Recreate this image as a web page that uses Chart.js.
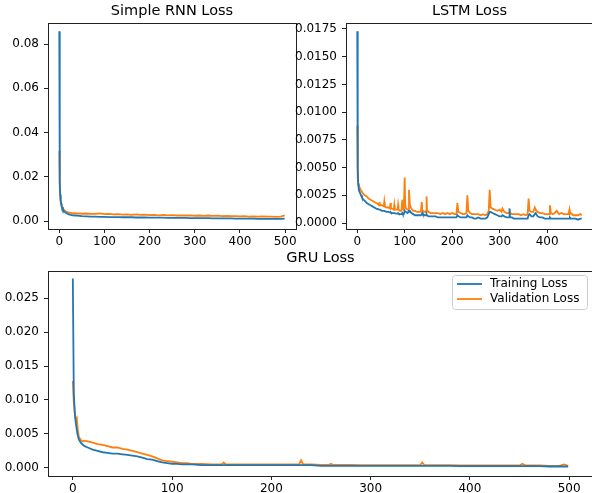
<!DOCTYPE html>
<html><head><meta charset="utf-8">
<script src="https://cdn.jsdelivr.net/npm/chart.js@4.4.1/dist/chart.umd.min.js"></script>
<style>
html,body{margin:0;padding:0;background:#fff;overflow:hidden;width:592px;height:493px;position:relative;}
canvas{position:absolute;display:block;}
</style></head><body>
<canvas id="c1" width="300" height="250" style="left:0;top:0"></canvas>
<canvas id="c2" width="306" height="250" style="left:290px;top:0"></canvas>
<canvas id="c3" width="596" height="250" style="left:0;top:245px"></canvas>
<script>
const seriesLabels = ['Training Loss', 'Validation Loss'];
const titles = ['Simple RNN Loss', 'LSTM Loss', 'GRU Loss'];

const rnnEpochs = [0,1,2,3,4,5,6,8,10,12,15,20,25,30,35,40,45,50,60,70,80,90,100,110,120,130,140,150,160,170,180,190,200,210,220,230,240,250,260,270,280,290,300,310,320,330,340,350,360,370,380,390,400,410,420,430,440,450,460,470,480,490,499];
const rnnTrain = [0.0858,0.018,0.012,0.0095,0.008,0.007,0.0062,0.0052,0.0046,0.0041,0.0036,0.0031,0.0028,0.0026,0.0025,0.0024,0.0023,0.0022,
 0.0021,0.0020,0.0020,0.0019,0.0019,0.0018,0.0018,0.0018,0.0017,0.0017,0.0017,0.0016,0.0016,0.0016,0.0015,0.0015,0.0015,0.0015,0.0014,0.0014,0.0014,0.0014,0.0014,0.0013,0.0013,0.0013,0.0013,0.0013,0.0012,0.0012,0.0012,0.0012,0.0012,0.0011,0.0011,0.0011,0.0011,0.0011,0.0010,0.0010,0.0010,0.0010,0.0010,0.0010,
 0.0011];
const rnnVal = [0.0316,0.016,0.011,0.0088,0.0076,0.0069,0.0063,0.0056,0.0051,0.0047,0.0043,0.0039,0.0037,0.0035,0.0036,0.0034,0.0035,0.0033,
 0.0034,0.0032,0.0033,0.0035,0.0031,0.0032,0.0030,0.0031,0.0029,0.0030,0.0028,0.0030,0.0028,0.0029,0.0027,0.0028,0.0026,0.0028,0.0026,0.0027,0.0025,0.0026,0.0025,0.0026,0.0024,0.0025,0.0023,0.0025,0.0023,0.0024,0.0022,0.0023,0.0022,0.0022,0.0021,0.0022,0.0020,0.0021,0.0020,0.0021,0.0020,0.0020,0.0019,0.0020,
 0.0026];

const lstmEpochs = [0,1,2,3,4,6,8,10,13,16, 20,24,28,32,36,40,44,46,47,48, 52,56,57,58,62,66,69,70,71,74, 77,78,79,82,85,86,87,90,93,95,
 96,98,100,101,103,106,108,109,111,114, 118,122,126,130,134,136,137,138,142,145, 146,147,150,155,160,165,170,175,180,185,
 190,195,200,205,209,211,213,218,222,226, 230,232,234,238,242,246,250,255,260,265, 270,274,277,279,281,285,290,295,300,304,
 306,310,315,320,321,322,326,330,335,340, 345,350,355,359,361,363,367,371,374,376, 380,385,390,395,400,404,406,408,412,416,
 420,425,430,435,440,445,447,448,450,455, 460,465,470,473];
const lstmTrain = [0.0173,0.0050,0.0035,0.0031,0.0029,0.0027,0.0025,0.0023,0.0021,0.0020,
 0.0018,0.0017,0.0016,0.0015,0.0014,0.0013,0.00125,0.0012,0.0012,0.0012,
 0.0011,0.0011,0.0011,0.0011,0.0010,0.0010,0.00095,0.0010,0.00095,0.0009,
 0.0009,0.0009,0.0009,0.00085,0.00085,0.0009,0.00085,0.0008,0.0008,0.0009,
 0.0008,0.0008,0.0011,0.0010,0.0010,0.0009,0.0010,0.0011,0.0011,0.0009,
 0.0008,0.0007,0.0007,0.0007,0.0007,0.0008,0.0009,0.0008,0.0007,0.0007,
 0.0008,0.0007,0.0006,0.0006,0.0006,0.0006,0.0005,0.0005,0.0005,0.0005,
 0.0005,0.0005,0.0005,0.0005,0.0005,0.0007,0.0006,0.0005,0.0005,0.0005,
 0.0005,0.0007,0.0006,0.0005,0.0005,0.0004,0.0004,0.0005,0.0004,0.0004,
 0.0004,0.0005,0.0008,0.0010,0.0010,0.0009,0.0008,0.0007,0.0006,0.0006,
 0.0007,0.0006,0.0005,0.0005,0.0013,0.0005,0.0005,0.0004,0.0004,0.0004,
 0.0004,0.0004,0.0004,0.0004,0.0007,0.0008,0.0006,0.0006,0.0008,0.0009,
 0.0006,0.0005,0.0005,0.0004,0.0004,0.0004,0.0005,0.0004,0.0004,0.0004,
 0.0004,0.0004,0.0004,0.0004,0.0004,0.0004,0.0004,0.0005,0.0004,0.0004,
 0.0004,0.0003,0.0004,0.0004];
const lstmVal = [0.0088,0.0040,0.0036,0.0034,0.0033,0.0031,0.0029,0.0028,0.0026,0.0025,
 0.0024,0.0022,0.0021,0.0020,0.0019,0.0018,0.0017,0.0016,0.0019,0.0016,
 0.0016,0.0015,0.0019,0.0015,0.0014,0.0014,0.0013,0.0018,0.0013,0.0013,
 0.0012,0.0016,0.0012,0.0012,0.0012,0.0016,0.0012,0.0011,0.0011,0.0021,
 0.0013,0.0012,0.0041,0.0016,0.0013,0.0012,0.0012,0.0030,0.0016,0.0013,
 0.0011,0.0011,0.0010,0.0010,0.0010,0.0019,0.0012,0.0011,0.0010,0.0010,
 0.0024,0.0012,0.0010,0.0009,0.0009,0.0009,0.0009,0.0008,0.0009,0.0008,
 0.0009,0.0008,0.0009,0.0008,0.0008,0.0018,0.0010,0.0009,0.0008,0.0008,
 0.0009,0.0025,0.0011,0.0009,0.0008,0.0008,0.0008,0.0008,0.0007,0.0008,
 0.0007,0.0008,0.0011,0.0030,0.0014,0.0013,0.0012,0.0011,0.0012,0.0010,
 0.0013,0.0010,0.0009,0.0009,0.0010,0.0009,0.0008,0.0008,0.0008,0.0008,
 0.0007,0.0008,0.0007,0.0008,0.0022,0.0011,0.0010,0.0010,0.0014,0.0012,
 0.0010,0.0009,0.0009,0.0008,0.0008,0.0008,0.0016,0.0009,0.0008,0.0009,
 0.0011,0.0008,0.0009,0.0008,0.0008,0.0008,0.0012,0.0008,0.0009,0.0007,
 0.0007,0.0007,0.0008,0.0007];

const gruEpochs = [0,1,2,3,4,5,6,8,10,12, 15,20,25,30,35,40,45,50,55,60, 65,70,75,80,85,90,95,100,105,110,
 115,120,130,140,150,152,154,160,170,180, 190,200,210,220,228,230,232,240,250,258, 260,262,270,280,290,300,310,320,330,340,
 350,352,354,360,370,380,390,400,410,420, 430,440,450,453,456,460,470,480,490,495, 499];
const gruTrain = [0.0279,0.0110,0.0080,0.0066,0.0056,0.0048,0.0042,0.0037,0.0034,0.0032,
 0.0030,0.0027,0.0025,0.0023,0.0022,0.0021,0.0021,0.0020,0.0019,0.0018,
 0.0017,0.0015,0.0013,0.0012,0.0010,0.0008,0.0007,0.0006,0.0006,0.0005,
 0.0005,0.0005,0.0004,0.0004,0.0004,0.0004,0.0004,0.0004,0.0004,0.0004,
 0.0004,0.0004,0.0004,0.0004,0.0004,0.0004,0.0004,0.0004,0.0003,0.0003,
 0.0003,0.0003,0.0003,0.0003,0.0003,0.0003,0.0003,0.0003,0.0003,0.0003,
 0.0003,0.0003,0.0003,0.0003,0.0003,0.0003,0.00025,0.00025,0.00025,0.00025,
 0.00025,0.00025,0.00025,0.00025,0.00025,0.00025,0.00025,0.0002,0.0002,0.0002,
 0.0002];
const gruVal = [0.0128,0.0096,0.0082,0.0070,0.0073,0.0056,0.0046,0.0041,0.0039,0.0040,
 0.0039,0.0037,0.0035,0.0034,0.0032,0.0030,0.0030,0.0028,0.0027,0.0025,
 0.0023,0.0021,0.0019,0.0017,0.0014,0.0011,0.0010,0.0009,0.0008,0.0007,
 0.0007,0.0006,0.0006,0.0005,0.0005,0.0008,0.0005,0.0005,0.0005,0.0005,
 0.0005,0.0005,0.0005,0.0005,0.0005,0.0011,0.0005,0.0005,0.00045,0.00045,
 0.0006,0.00045,0.00045,0.00045,0.0004,0.0004,0.0004,0.0004,0.0004,0.0004,
 0.0004,0.0008,0.0004,0.0004,0.0004,0.0004,0.00035,0.00035,0.00035,0.00035,
 0.00035,0.00035,0.00035,0.0006,0.00035,0.00035,0.00035,0.0003,0.0003,0.0005,
 0.0003];

const rnnXTicks = [0,100,200,300,400,500];
const rnnYTicks = [0,0.02,0.04,0.06,0.08];
const lstmXTicks = [0,100,200,300,400];
const lstmYTicks = [0,0.0025,0.005,0.0075,0.01,0.0125,0.015,0.0175];
const gruXTicks = [0,100,200,300,400,500];
const gruYTicks = [0,0.005,0.01,0.015,0.02,0.025];

const BLUE = '#1f77b4', ORANGE = '#ff7f0e';
const FONT = "'DejaVu Sans', sans-serif";
const TICK_SIZE = 12, TITLE_SIZE = 14.5;
Chart.defaults.font.family = FONT;
Chart.defaults.color = '#000';

const framePlugin = {
  id: 'frame',
  afterDatasetsDraw(c) {
    const a = c.chartArea, x = c.ctx;
    x.save();
    x.strokeStyle = '#222';
    x.lineWidth = 1;
    x.strokeRect(Math.round(a.left) + 0.5, Math.round(a.top) + 0.5, Math.round(a.right - a.left), Math.round(a.bottom - a.top));
    x.restore();
  }
};

const legendPlugin = {
  id: 'legendBox',
  afterDraw(c) {
    const a = c.chartArea, x = c.ctx;
    const w = 135, h = 34;
    const L = Math.round(a.right) - 6 - w, T = Math.round(a.top) + 4;
    x.save();
    x.fillStyle = 'rgba(255,255,255,0.8)';
    x.strokeStyle = '#cccccc';
    x.lineWidth = 1;
    x.beginPath();
    x.roundRect(L + 0.5, T + 0.5, w, h, 3);
    x.fill(); x.stroke();
    x.font = TICK_SIZE + 'px ' + FONT;
    x.textBaseline = 'middle';
    c.data.datasets.forEach((d, i) => {
      const y = T + 9 + i * 15;
      x.strokeStyle = d.borderColor;
      x.lineWidth = 1.8;
      x.beginPath(); x.moveTo(L + 5, y); x.lineTo(L + 30, y); x.stroke();
      x.fillStyle = '#000';
      x.fillText(d.label, L + 38, y);
    });
    x.restore();
  }
};

function makeChart(id, cfg) {
  const ds = [cfg.train, cfg.val].map((vals, i) => ({
    label: seriesLabels[i],
    data: cfg.epochs.map((e, k) => ({ x: e, y: vals[k] })),
    borderColor: i === 0 ? BLUE : ORANGE,
    backgroundColor: i === 0 ? BLUE : ORANGE,
    borderWidth: 1.8,
    pointRadius: 0,
    tension: 0,
    fill: false
  }));
  const plugins = [framePlugin];
  if (cfg.legend) plugins.push(legendPlugin);
  return new Chart(document.getElementById(id), {
    type: 'line',
    data: { datasets: ds },
    plugins,
    options: {
      responsive: false,
      animation: false,
      devicePixelRatio: 1,
      layout: { padding: { left: 0, right: cfg.rightPad, top: 0, bottom: 0 } },
      plugins: {
        legend: { display: false },
        tooltip: { enabled: false },
        title: {
          display: true, text: cfg.title, fullSize: false,
          color: '#000',
          font: { size: TITLE_SIZE, weight: 'normal', family: FONT, lineHeight: 1.2 },
          padding: { top: cfg.titleTop, bottom: cfg.titleBottom }
        }
      },
      scales: {
        x: {
          type: 'linear', min: cfg.xmin, max: cfg.xmax,
          afterBuildTicks: s => { s.ticks = cfg.xTicks.map(v => ({ value: v })); },
          afterFit: s => { s.height = cfg.xh; },
          ticks: { autoSkip: false, maxRotation: 0, padding: 2, color: '#000', font: { size: TICK_SIZE, family: FONT }, callback: v => String(v) },
          grid: { drawOnChartArea: false, drawTicks: true, tickLength: 4, color: '#222', tickColor: '#222' },
          border: { display: false }
        },
        y: {
          type: 'linear', min: cfg.ymin, max: cfg.ymax,
          afterBuildTicks: s => { s.ticks = cfg.yTicks.map(v => ({ value: v })); },
          afterFit: s => { s.width = cfg.yw; },
          ticks: { autoSkip: false, padding: 5, color: '#000', font: { size: TICK_SIZE, family: FONT }, callback: v => v.toFixed(cfg.dec) },
          grid: { drawOnChartArea: false, drawTicks: true, tickLength: 4, color: '#222', tickColor: '#222' },
          border: { display: false }
        }
      }
    }
  });
}

makeChart('c1', { epochs: rnnEpochs, train: rnnTrain, val: rnnVal, title: titles[0],
  xmin: -25, xmax: 524, ymin: -0.0036, ymax: 0.0895, xTicks: rnnXTicks, yTicks: rnnYTicks, dec: 2,
  yw: 48, xh: 21, rightPad: 4, titleTop: 3, titleBottom: 2.6, legend: false });
makeChart('c2', { epochs: lstmEpochs, train: lstmTrain, val: lstmVal, title: titles[1],
  xmin: -23.7, xmax: 496.7, ymin: -0.00054, ymax: 0.01804, xTicks: lstmXTicks, yTicks: lstmYTicks, dec: 4,
  yw: 56, xh: 21, rightPad: 3, titleTop: 3, titleBottom: 2.6, legend: false });
makeChart('c3', { epochs: gruEpochs, train: gruTrain, val: gruVal, title: titles[2],
  xmin: -25, xmax: 524, ymin: -0.0012, ymax: 0.0290, xTicks: gruXTicks, yTicks: gruYTicks, dec: 3,
  yw: 48, xh: 19, rightPad: 3, titleTop: 5, titleBottom: 3.6, legend: true });
</script>
</body></html>
